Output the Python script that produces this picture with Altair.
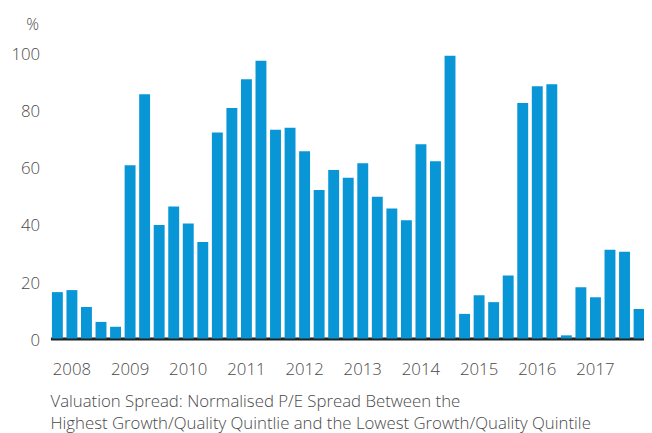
import altair as alt
import pandas as pd

years = ["2008", "2009", "2010", "2011", "2012", "2013", "2014", "2015", "2016", "2017", "2018"]
quarter_names = ["Q1", "Q2", "Q3", "Q4"]
quarters = [y + q for y in years for q in quarter_names][:41]

values = [16.2, 16.9, 11.0, 5.8, 4.1, 60.5, 85.3, 39.6, 46.1, 40.2,
          33.7, 71.9, 80.5, 90.5, 97.0, 72.9, 73.6, 65.4, 51.9, 58.8,
          56.1, 61.2, 49.5, 45.4, 41.3, 67.8, 61.9, 98.7, 8.6, 15.1,
          12.7, 22.0, 82.2, 88.1, 88.8, 1.1, 17.9, 14.4, 31.0, 30.3,
          10.3]

y_ticks = [0, 20, 40, 60, 80, 100]
caption = ["Valuation Spread: Normalised P/E Spread Between the",
           "Highest Growth/Quality Quintlie and the Lowest Growth/Quality Quintile"]

df = pd.DataFrame({"quarter": quarters, "value": values})

FONT = "Open Sans"
TXT = "#4a4a4a"
W = 300

chart = alt.Chart(df).mark_bar(color="#0896d7").encode(
    x=alt.X(
        "quarter:N",
        sort=quarters,
        scale=alt.Scale(paddingInner=0.25, paddingOuter=0.1, range=[0, 603]),
        axis=alt.Axis(
            title=None,
            ticks=False,
            domainColor="#222222",
            domainWidth=3,
            labelExpr="indexof(datum.value, 'Q2') > 0 ? slice(datum.value, 0, 4) : ''",
            labelAngle=0,
            labelPadding=23,
            labelFontSize=17,
            labelFont=FONT,
            labelFontWeight=W,
            labelColor=TXT,
            labelOverlap=False,
        ),
    ),
    y=alt.Y(
        "value:Q",
        scale=alt.Scale(domain=[0, 100], nice=False),
        axis=alt.Axis(
            values=y_ticks,
            grid=False,
            domain=False,
            ticks=False,
            labelPadding=11,
            labelOffset=2,
            labelFontSize=17,
            labelFont=FONT,
            labelFontWeight=W,
            labelColor=TXT,
            title="%",
            titleAngle=0,
            titleX=-12,
            titleY=-28,
            titleAlign="right",
            titleBaseline="middle",
            titleFont=FONT,
            titleFontSize=16,
            titleFontWeight=W,
            titleColor=TXT,
        ),
    ),
).properties(
    width=601,
    height=290,
    autosize=alt.AutoSizeParams(type="none"),
    padding={"left": 43, "top": 42, "right": 0, "bottom": 93},
    title=alt.TitleParams(
        text=caption,
        orient="bottom",
        anchor="start",
        frame="group",
        offset=17,
        font=FONT,
        fontSize=17,
        fontWeight=W,
        color=TXT,
        lineHeight=23,
    ),
).configure_view(stroke=None)

chart.save("out.html", embed_options={"renderer": "svg", "actions": False})
